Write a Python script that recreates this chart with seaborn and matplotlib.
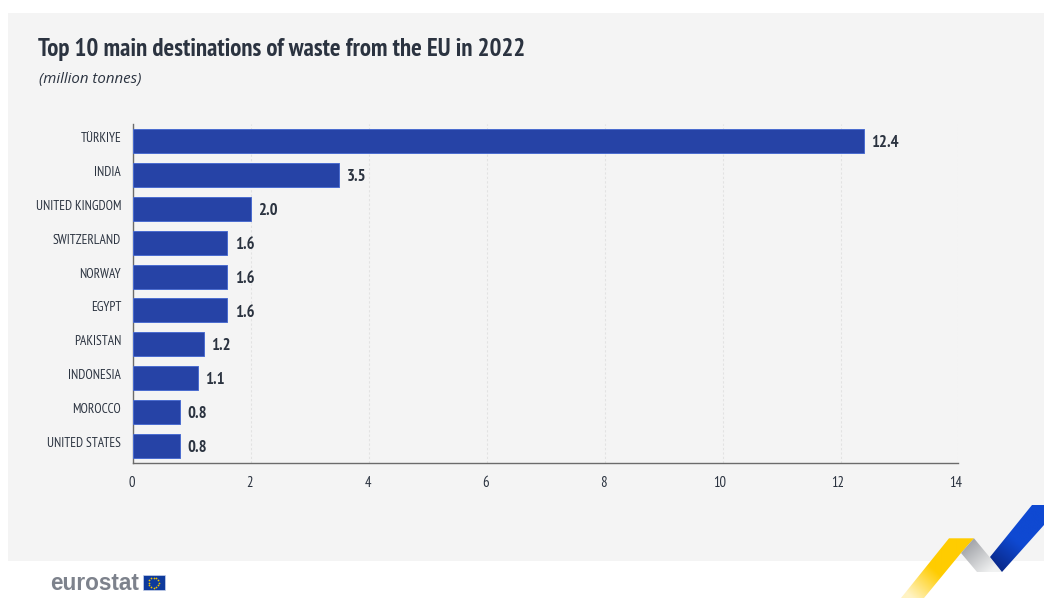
import numpy as np
import pandas as pd
import matplotlib
matplotlib.use("Agg")
import matplotlib.pyplot as plt
import matplotlib.transforms as mtrans
from matplotlib.patches import Polygon, Rectangle
import seaborn as sns

# Waste shipped out of the EU, million tonnes
destinations = ["TÜRKIYE", "INDIA", "UNITED KINGDOM", "SWITZERLAND", "NORWAY",
                "EGYPT", "PAKISTAN", "INDONESIA", "MOROCCO", "UNITED STATES"]
tonnes = [12.4, 3.5, 2.0, 1.6, 1.6, 1.6, 1.2, 1.1, 0.8, 0.8]
x_ticks = [0, 2, 4, 6, 8, 10, 12, 14]
title = "Top 10 main destinations of waste from the EU in 2022"
unit = "(million tonnes)"

W, H = 1044, 598
PANEL = "#f4f4f4"
INK = "#2b3340"
NARROW = ["PT Sans Narrow", "Fira Sans Condensed", "Archivo Narrow", "Liberation Sans", "DejaVu Sans"]

sns.set_theme(style="white")
plt.rcParams["font.family"] = NARROW
fig = plt.figure(figsize=(W / 100, H / 100), dpi=100, facecolor="white")

# Overlay in pixel coordinates for the panel, branding and ribbon
bg = fig.add_axes([0, 0, 1, 1], zorder=0)
bg.set_xlim(0, W)
bg.set_ylim(H, 0)
bg.axis("off")
bg.add_patch(Rectangle((8, 13), W - 8, 548, fc=PANEL, ec="none"))

ax = fig.add_axes([133 / W, 1 - 463 / H, (958.5 - 133) / W, (463 - 124) / H], zorder=2)
ax.patch.set_alpha(0)
df = pd.DataFrame({"destination": destinations, "tonnes": tonnes})
sns.barplot(data=df, x="tonnes", y="destination", orient="h", ax=ax, width=0.71,
            color="#2643a6", saturation=1, edgecolor="#4a6cd0", linewidth=0.7, zorder=3)
ax.set_xlim(0, 14)
ax.set_ylim(9.5, -0.5)
ax.set_xlabel("")
ax.set_ylabel("")
ax.set_xticks(x_ticks)
ax.grid(axis="x", color="#e2e2e2", linestyle=(0, (2, 2)), linewidth=0.8, zorder=0)
ax.grid(axis="y", visible=False)
ax.set_axisbelow(True)
for side in ("top", "right"):
    ax.spines[side].set_visible(False)
for side in ("left", "bottom"):
    ax.spines[side].set_color("#6b6b6b")
    ax.spines[side].set_linewidth(1.0)
ax.tick_params(axis="x", length=0, pad=9.5, labelsize=10.5, labelcolor=INK)
ax.tick_params(axis="y", length=0, pad=8.5, labelsize=9.6, labelcolor=INK)

# Category names sit a little above the bar centres, x labels a little left of the grid
for lab in ax.get_yticklabels():
    lab.set_transform(lab.get_transform() + mtrans.Affine2D().translate(0, 4))
for tick, lab in zip(x_ticks, ax.get_xticklabels()):
    shift = -3 if tick >= 10 else -1
    lab.set_transform(lab.get_transform() + mtrans.Affine2D().translate(shift, 0))

for bars in ax.containers:
    for note in ax.bar_label(bars, labels=[f"{v:.1f}" for v in tonnes], padding=5.3,
                             fontsize=12, fontweight="bold", color=INK):
        x_off, y_off = note.xyann
        note.xyann = (x_off, y_off - 1.5)

fig.text(38 / W, 1 - 49.5 / H, title, fontsize=17.9, fontweight="bold", color=INK,
         ha="left", va="center")
fig.text(39 / W, 1 - 79.5 / H, unit, fontsize=10.8, style="italic", color=INK,
         family=["Open Sans", "DejaVu Sans"], ha="left", va="center")

# Eurostat wordmark and flag
bg.text(50, 584, "eurostat", fontsize=16.3, fontweight="bold", color="#7d828c",
        family=["Liberation Sans", "DejaVu Sans"], ha="left", va="center")
bg.add_patch(Rectangle((142.5, 575), 22, 15, fc="#0e3a9c", ec="#c8d2ea", lw=0.5))
angles = np.linspace(0, 2 * np.pi, 12, endpoint=False)
bg.scatter(153.5 + 5 * np.cos(angles), 582.5 + 5 * np.sin(angles), s=1.6, color="#f2c500",
           linewidths=0, zorder=3)


def ribbon(points, stops, start, end):
    """Fill a polygon with a linear gradient running from start to end (pixels)."""
    points = np.array(points, float)
    x0, x1, y0, y1 = points[:, 0].min(), points[:, 0].max(), points[:, 1].min(), points[:, 1].max()
    xs, ys = np.meshgrid(np.linspace(x0, x1, 120), np.linspace(y0, y1, 120))
    d = np.array(end, float) - np.array(start, float)
    t = np.clip(((xs - start[0]) * d[0] + (ys - start[1]) * d[1]) / (d @ d), 0, 1)
    cmap = matplotlib.colors.LinearSegmentedColormap.from_list("r", stops)
    im = bg.imshow(t, extent=(x0, x1, y1, y0), cmap=cmap, vmin=0, vmax=1,
                   aspect="auto", interpolation="bilinear", zorder=2)
    im.set_clip_path(Polygon(points, transform=bg.transData))


ribbon([(949, 538.3), (974, 538.3), (961, 553), (924, 598), (901, 598)],
       ["#ffcc00", "#ffcc00", "#fff3c4"], (960, 545), (912, 598))
ribbon([(974, 538.3), (1002, 572), (977, 572), (961, 553)],
       ["#a3a5aa", "#f1f2f2"], (967, 545), (990, 572))
ribbon([(1032, 505), (1044, 505), (1044, 525), (1002, 572), (990, 557)],
       ["#0f49d2", "#0f49d2", "#0a2a8c"], (1035, 515), (995, 565))
bg.set_xlim(0, W)
bg.set_ylim(H, 0)

fig.savefig("out.png", dpi=100, facecolor="white")
